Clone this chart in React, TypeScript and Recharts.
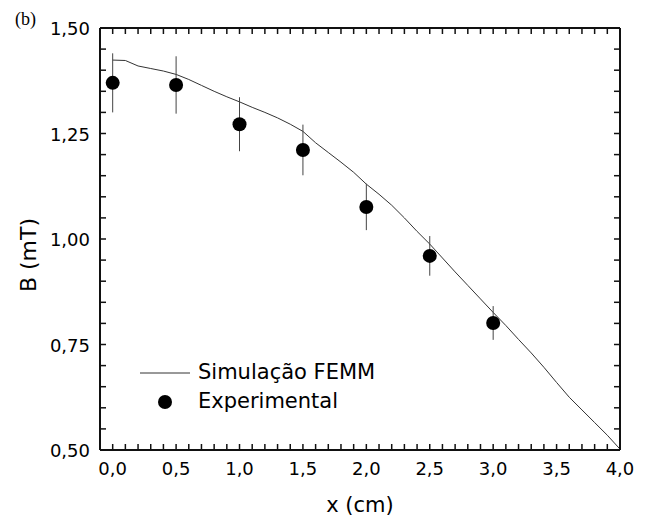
import React from 'react';
import { ComposedChart, Line, Scatter, ErrorBar, XAxis, YAxis } from 'recharts';

// FEMM simulation curve
const simX = [0, 0.1, 0.2, 0.3, 0.4, 0.5, 0.6, 0.7, 0.8, 0.9, 1.0, 1.1, 1.2, 1.3, 1.4, 1.5, 1.6, 1.7, 1.8, 1.9, 2.0,
  2.1, 2.2, 2.3, 2.4, 2.5, 2.6, 2.7, 2.8, 2.9, 3.0, 3.1, 3.2, 3.3, 3.4, 3.5, 3.6, 3.7, 3.8, 3.9, 4.0];
const simB = [1.424, 1.423, 1.410, 1.404, 1.398, 1.390, 1.378, 1.364, 1.350, 1.337, 1.325, 1.312, 1.300, 1.287, 1.272,
  1.255, 1.228, 1.205, 1.182, 1.158, 1.130, 1.106, 1.080, 1.050, 1.018, 0.988, 0.955, 0.922, 0.890, 0.858, 0.826,
  0.795, 0.762, 0.730, 0.696, 0.660, 0.625, 0.595, 0.565, 0.535, 0.502];

// experimental points
const expX = [0, 0.5, 1.0, 1.5, 2.0, 2.5, 3.0];
const expB = [1.370, 1.365, 1.272, 1.211, 1.076, 0.960, 0.801];
const expErr = [0.070, 0.068, 0.064, 0.060, 0.055, 0.047, 0.040];

const xTicks = [0, 0.1, 0.2, 0.3, 0.4, 0.5, 0.6, 0.7, 0.8, 0.9, 1.0, 1.1, 1.2, 1.3, 1.4, 1.5, 1.6, 1.7, 1.8, 1.9, 2.0,
  2.1, 2.2, 2.3, 2.4, 2.5, 2.6, 2.7, 2.8, 2.9, 3.0, 3.1, 3.2, 3.3, 3.4, 3.5, 3.6, 3.7, 3.8, 3.9, 4.0];
const yTicks = [0.5, 0.55, 0.6, 0.65, 0.7, 0.75, 0.8, 0.85, 0.9, 0.95, 1.0, 1.05, 1.1, 1.15, 1.2, 1.25, 1.3, 1.35,
  1.4, 1.45, 1.5];

const simData = simX.map((x, i) => ({ x, b: simB[i] }));
const expData = expX.map((x, i) => ({ x, b: expB[i], err: expErr[i] }));

const FONT = 'DejaVu Sans, sans-serif';
const INK = '#111';
const TICK = 6;
const isMajor = (v: number, step: number) => Math.abs(v / step - Math.round(v / step)) < 1e-6;
const comma = (v: number, d: number) => v.toFixed(d).replace('.', ',');

// labels only; the inward tick marks come from tickLine with a negative tickSize
const bottomLabel = (p: any) => {
  const { x, y, payload } = p;
  if (!isMajor(payload.value, 0.5)) return <g />;
  return (
    <text x={x} y={y + 25} textAnchor="middle" fontSize={18} fontFamily={FONT} fill="#000">
      {comma(payload.value, 1)}
    </text>
  );
};

const leftLabel = (p: any) => {
  const { x, y, payload } = p;
  if (!isMajor(payload.value, 0.25)) return <g />;
  return (
    <text x={x - 10} y={y + 7} textAnchor="end" fontSize={18} fontFamily={FONT} fill="#000">
      {comma(payload.value, 2)}
    </text>
  );
};

const noLabel = () => <g />;

const Dot = (p: any) => <circle cx={p.cx} cy={p.cy} r={7} fill="#000" />;

export default function App() {
  return (
    <div style={{ position: 'fixed', left: 0, top: 0, width: 653, height: 521, background: '#fff' }}>
      <ComposedChart width={653} height={521} margin={{ top: 0, right: 0, bottom: 0, left: 0 }}>
        <XAxis dataKey="x" type="number" domain={[-0.1, 4.0]} ticks={xTicks} height={71}
          axisLine={{ stroke: INK, strokeWidth: 2 }} tickSize={-TICK} tickMargin={TICK}
          tickLine={{ stroke: INK, strokeWidth: 1.5 }} tick={bottomLabel} interval={0} />
        <XAxis xAxisId="top" dataKey="x" orientation="top" type="number" domain={[-0.1, 4.0]} ticks={xTicks}
          height={28} axisLine={{ stroke: INK, strokeWidth: 2 }} tickSize={-TICK} tickMargin={TICK}
          tickLine={{ stroke: INK, strokeWidth: 1.5 }} tick={noLabel} interval={0} />
        <YAxis type="number" domain={[0.5, 1.5]} ticks={yTicks} width={100}
          axisLine={{ stroke: INK, strokeWidth: 2 }} tickSize={-TICK} tickMargin={TICK}
          tickLine={{ stroke: INK, strokeWidth: 1.5 }} tick={leftLabel} interval={0} />
        <YAxis yAxisId="right" orientation="right" type="number" domain={[0.5, 1.5]} ticks={yTicks} width={33}
          axisLine={{ stroke: INK, strokeWidth: 2 }} tickSize={-TICK} tickMargin={TICK}
          tickLine={{ stroke: INK, strokeWidth: 1.5 }} tick={noLabel} interval={0} />
        {/* invisible copy so the top/right frame axes get a scale */}
        <Line data={simData} dataKey="b" xAxisId="top" yAxisId="right" stroke="none" dot={false}
          isAnimationActive={false} />
        <Line data={simData} dataKey="b" type="linear" stroke="#333" strokeWidth={1} dot={false}
          isAnimationActive={false} />
        <Scatter data={expData} dataKey="b" shape={<Dot />} isAnimationActive={false}>
          <ErrorBar dataKey="err" direction="y" width={0} stroke="#444" strokeWidth={1} />
        </Scatter>
      </ComposedChart>
      <svg width={653} height={521} style={{ position: 'absolute', left: 0, top: 0, pointerEvents: 'none' }}>
        <text x={15} y={25} fontFamily="Liberation Serif, serif" fontSize={18} fill="#000">(b)</text>
        <text x={28} y={255} transform="rotate(-90 28 255)" textAnchor="middle" dominantBaseline="central"
          fontFamily={FONT} fontSize={22} fill="#000">B (mT)</text>
        <text x={360} y={512} textAnchor="middle" fontFamily={FONT} fontSize={21} fill="#000">x (cm)</text>
      </svg>
      <div style={{ position: 'absolute', left: 140, top: 358, fontFamily: FONT, fontSize: 21, lineHeight: '29px' }}>
        <div style={{ display: 'flex', alignItems: 'center' }}>
          <svg width={58} height={29}><line x1={0} y1={15} x2={50} y2={15} stroke="#333" strokeWidth={1} /></svg>
          <span>Simulação FEMM</span>
        </div>
        <div style={{ display: 'flex', alignItems: 'center' }}>
          <svg width={58} height={29}><circle cx={25} cy={15} r={7} fill="#000" /></svg>
          <span>Experimental</span>
        </div>
      </div>
    </div>
  );
}
